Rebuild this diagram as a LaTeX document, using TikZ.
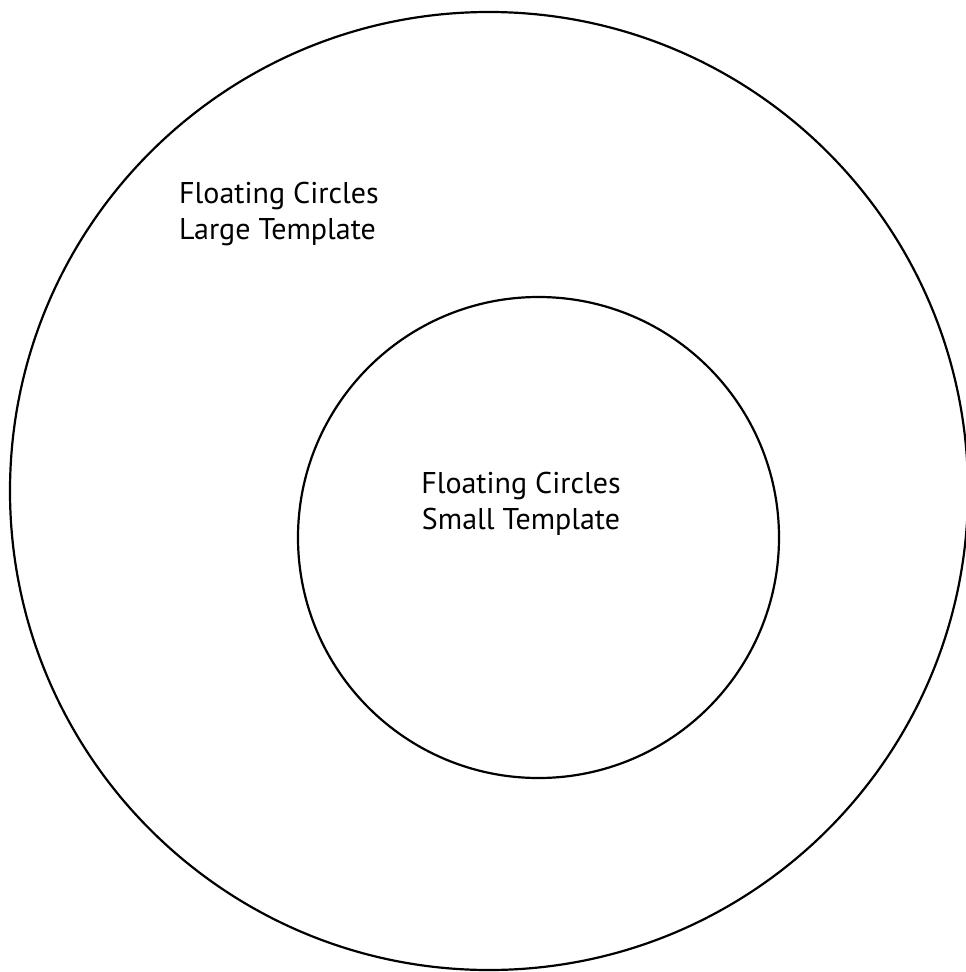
\documentclass[tikz,border=0pt]{standalone}
\usepackage{fontspec}
\setmainfont{PT Sans}
\usepackage{tikz}
\usetikzlibrary{positioning}
\tikzset{
  ringbox/.style={
    circle, draw, line width=2.2pt, inner sep=0pt
  },
  ringlabel/.style={
    font=\fontsize{30}{36}\selectfont, inner sep=0pt
  },
}

\begin{document}
\begin{tikzpicture}[x=1pt, y=-1pt]
  \useasboundingbox (0,0) rectangle (966,972);

  % --- Circles ---
  \node[ringbox, minimum size=958pt] (large) at (489,491) {};
  \node[ringbox, minimum size=481pt] (small) at (538.5,537.5) {};

  % --- Labels (base = last line) ---
  \node[ringlabel, align=left, anchor=base west] (largetext) at (179,239)
    {Floating Circles\\Large Template};
  \node[ringlabel, align=center, anchor=base] (smalltext) at (521,529)
    {Floating Circles\\Small Template};

\end{tikzpicture}
\end{document}
